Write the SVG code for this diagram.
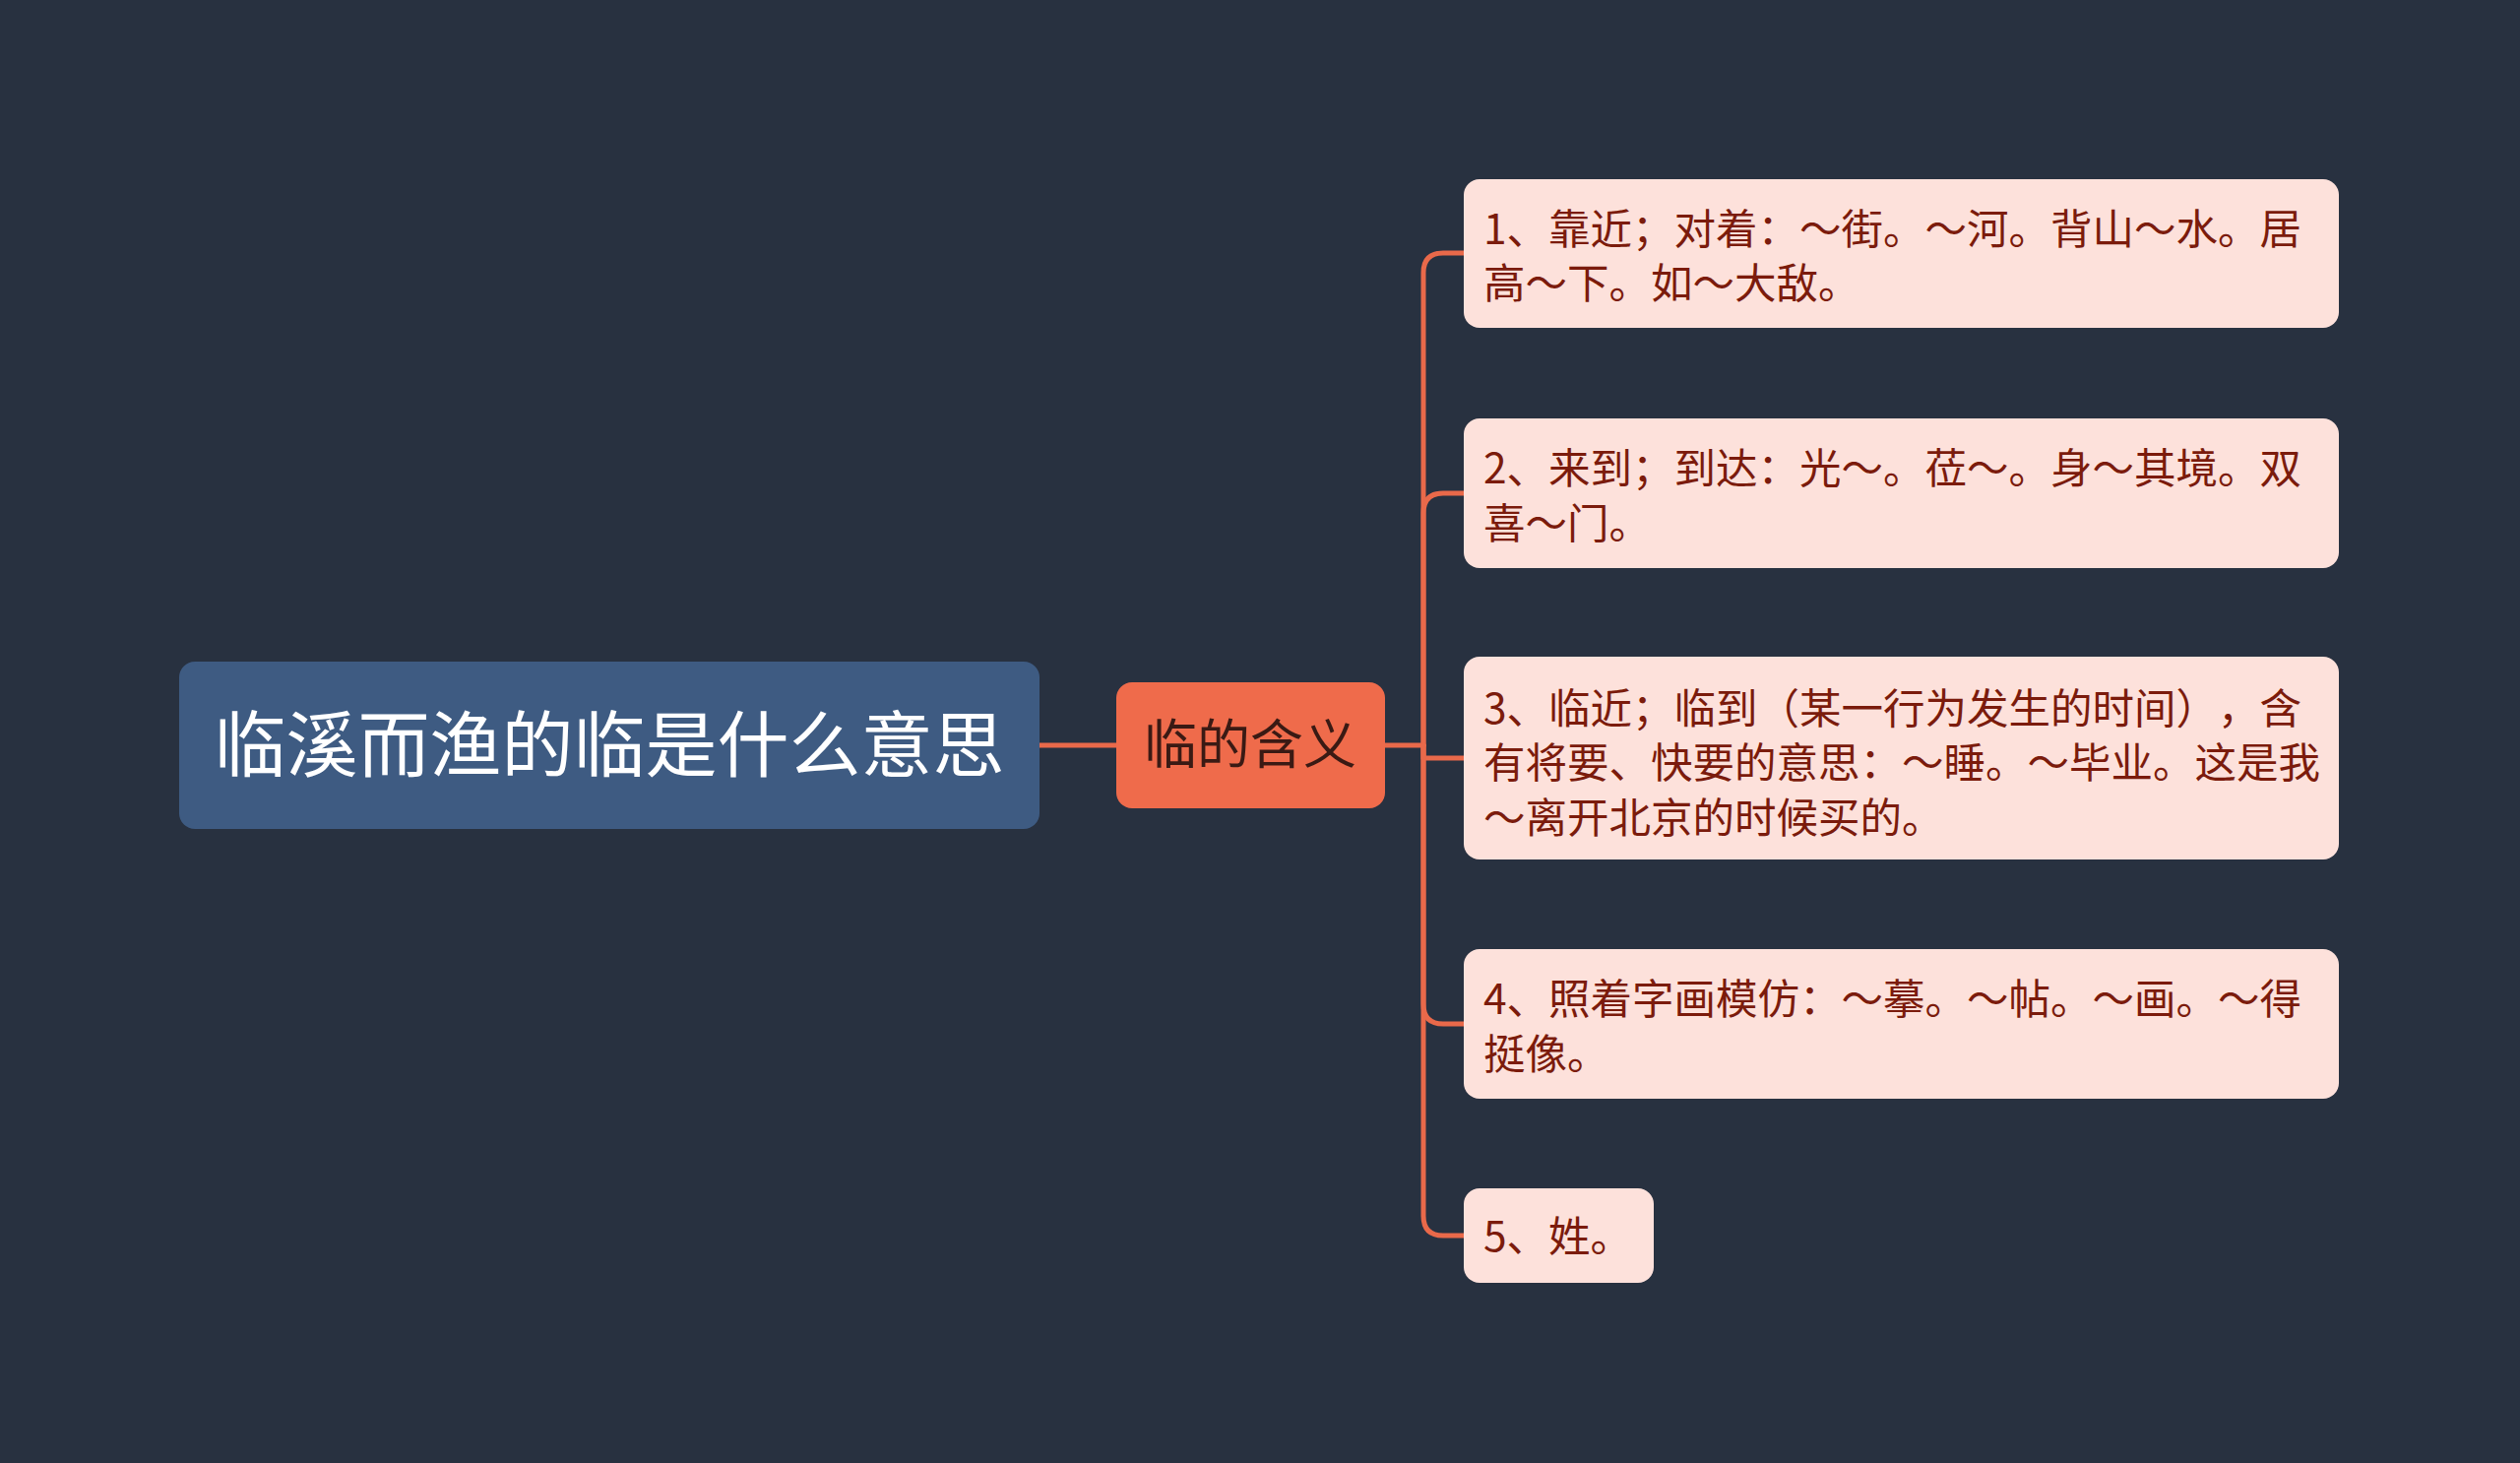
<svg xmlns="http://www.w3.org/2000/svg" width="2560" height="1486" viewBox="0 0 2560 1486">
<style>
.bg{fill:#283140}
.root{fill:#3e5b82}
.mid{fill:#ef6b4b}
.leaf{fill:#fde1db}
.t{font-family:"Noto Sans CJK SC","Noto Sans",sans-serif;text-spacing-trim:space-all;font-kerning:none}
.rt{font-size:73px;fill:#ffffff}
.mt{font-size:54px;fill:#3a1a14}
.lt{font-size:42.5px;fill:#7b1b0c}
.c{fill:none;stroke:#e9694a;stroke-width:5;stroke-linecap:round;stroke-linejoin:round}
</style>
<rect class="bg" x="0" y="0" width="2560" height="1486"/>
<g id="connectors">
<path class="c" d="M1056 757 H1134"/>
<path class="c" d="M1407 757 H1446"/>
<path class="c" d="M1446 757 V277 Q1446 257 1466 257 H1487"/>
<path class="c" d="M1446 757 V521 Q1446 501 1466 501 H1487"/>
<path class="c" d="M1446 757 V770 H1487"/>
<path class="c" d="M1446 757 V1020 Q1446 1040 1466 1040 H1487"/>
<path class="c" d="M1446 757 V1235 Q1446 1255 1466 1255 H1487"/>
</g>
<g id="root">
<rect class="root" x="182" y="672" width="874" height="170" rx="16"/>
<text class="t rt" x="619" y="783" text-anchor="middle">临溪而渔的临是什么意思</text>
</g>
<g id="mid">
<rect class="mid" x="1134" y="693" width="273" height="128" rx="16"/>
<text class="t mt" x="1270" y="776" text-anchor="middle">临的含义</text>
</g>
<g id="leaf1">
<rect class="leaf" x="1487" y="182" width="889" height="151" rx="16"/>
<text class="t lt" x="1507" y="248">1、靠近；对着：～街。～河。背山～水。居</text>
<text class="t lt" x="1507" y="303">高～下。如～大敌。</text>
</g>
<g id="leaf2">
<rect class="leaf" x="1487" y="425" width="889" height="152" rx="16"/>
<text class="t lt" x="1507" y="491">2、来到；到达：光～。莅～。身～其境。双</text>
<text class="t lt" x="1507" y="547">喜～门。</text>
</g>
<g id="leaf3">
<rect class="leaf" x="1487" y="667" width="889" height="206" rx="16"/>
<text class="t lt" x="1507" y="735">3、临近；临到（某一行为发生的时间），含</text>
<text class="t lt" x="1507" y="790">有将要、快要的意思：～睡。～毕业。这是我</text>
<text class="t lt" x="1507" y="846">～离开北京的时候买的。</text>
</g>
<g id="leaf4">
<rect class="leaf" x="1487" y="964" width="889" height="152" rx="16"/>
<text class="t lt" x="1507" y="1030">4、照着字画模仿：～摹。～帖。～画。～得</text>
<text class="t lt" x="1507" y="1086">挺像。</text>
</g>
<g id="leaf5">
<rect class="leaf" x="1487" y="1207" width="193" height="96" rx="16"/>
<text class="t lt" x="1507" y="1271">5、姓。</text>
</g>
</svg>
